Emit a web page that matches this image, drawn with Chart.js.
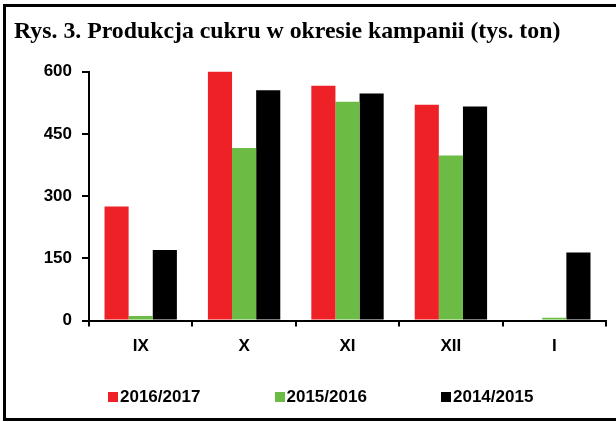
<!DOCTYPE html>
<html>
<head>
<meta charset="utf-8">
<script src="https://cdn.jsdelivr.net/npm/chart.js@4"></script>
<style>
    body { margin: 0; background: #fff; }
    #wrap { position: relative; width: 616px; height: 422px; }
    #legend {
        position: absolute; left: 108px; top: 387px; display: flex;
        font: bold 17px "Liberation Sans", Arial, sans-serif; color: #000;
    }
    .legend-item { display: flex; align-items: center; width: 166.5px; }
    .legend-box { width: 10px; height: 10px; margin-right: 2px; }
</style>
</head>
<body>
<div id="wrap">
    <canvas id="sugarChart"></canvas>
    <div id="legend"></div>
</div>
<script>
// Produkcja cukru w okresie kampanii (tys. ton)
const months = ['IX', 'X', 'XI', 'XII', 'I'];
const season2016 = [275, 600, 566, 520, 0];
const season2015 = [11, 416, 527, 398, 7];
const season2014 = [170, 555, 547, 516, 164];
const yTicks = [0, 150, 300, 450, 600];

const axisFont = { family: '"Liberation Sans", Arial, sans-serif', size: 17, weight: 'bold' };

// frame around the figure: left, top and bottom edges only
const framePlugin = {
    id: 'frame',
    afterDraw(chart) {
        const c = chart.ctx;
        c.save();
        c.strokeStyle = '#000';
        c.lineWidth = 3;
        c.beginPath();
        c.moveTo(chart.width, 5.5);
        c.lineTo(4.5, 5.5);
        c.lineTo(4.5, 419.5);
        c.lineTo(chart.width, 419.5);
        c.stroke();
        c.restore();
    }
};

const ctx = document.getElementById('sugarChart').getContext('2d');
const sugarChart = new Chart(ctx, {
    type: 'bar',
    data: {
        labels: months,
        datasets: [
            { label: '2016/2017', data: season2016, backgroundColor: '#EE2226' },
            { label: '2015/2016', data: season2015, backgroundColor: '#6CBB45' },
            { label: '2014/2015', data: season2014, backgroundColor: '#000000' }
        ]
    },
    plugins: [framePlugin],
    options: {
        responsive: true,
        maintainAspectRatio: false,
        animation: false,
        categoryPercentage: 0.7,
        barPercentage: 1.0,
        layout: {
            padding: { left: 14, right: 10, top: 7, bottom: 55 }
        },
        plugins: {
            legend: { display: false },
            tooltip: { enabled: false },
            title: {
                display: true,
                text: 'Rys. 3. Produkcja cukru w okresie kampanii (tys. ton)',
                align: 'start',
                color: '#000',
                font: { family: '"Liberation Serif", "Times New Roman", serif', size: 23.8, weight: 'bold' },
                padding: { top: 11, bottom: 25 }
            }
        },
        scales: {
            x: {
                grid: {
                    drawOnChartArea: false,
                    color: '#000',
                    lineWidth: 2,
                    tickLength: 6
                },
                border: { color: '#000', width: 2 },
                ticks: { color: '#000', font: axisFont, padding: 10 }
            },
            y: {
                min: 0,
                max: 600,
                afterFit: function(scale) {
                    scale.width = 75;
                },
                afterBuildTicks: function(scale) {
                    scale.ticks = yTicks.map(v => ({ value: v }));
                },
                grid: {
                    drawOnChartArea: false,
                    color: '#000',
                    lineWidth: 2,
                    tickLength: 7
                },
                border: { color: '#000', width: 2 },
                ticks: { color: '#000', font: axisFont, padding: 10 }
            }
        }
    }
});

// HTML legend built from the datasets
const legendEl = document.getElementById('legend');
sugarChart.data.datasets.forEach(ds => {
    const item = document.createElement('div');
    item.className = 'legend-item';
    const box = document.createElement('span');
    box.className = 'legend-box';
    box.style.background = ds.backgroundColor;
    const label = document.createElement('span');
    label.textContent = ds.label;
    item.appendChild(box);
    item.appendChild(label);
    legendEl.appendChild(item);
});
</script>
</body>
</html>
